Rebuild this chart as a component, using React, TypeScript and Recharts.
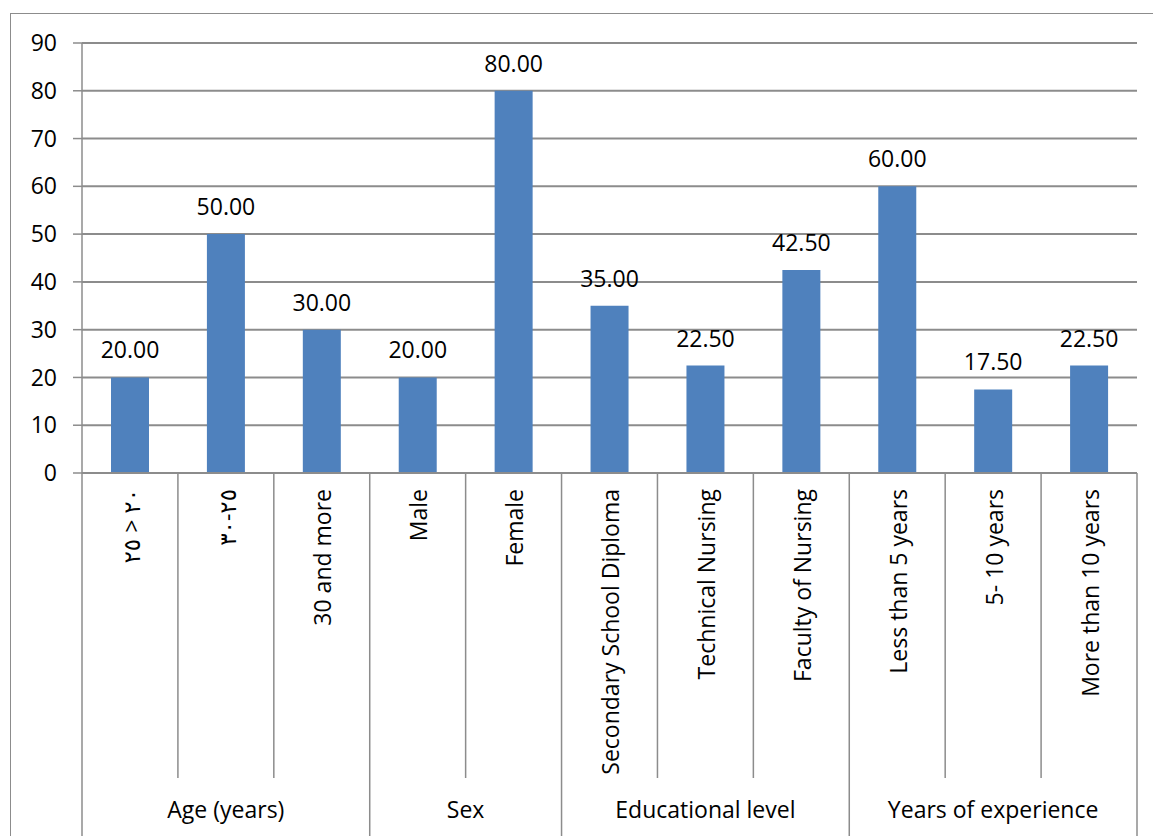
import React from 'react';
import { BarChart, Bar, XAxis, YAxis, CartesianGrid, LabelList } from 'recharts';

const categories = [
  '\u202D٢٥ > ٢٠\u202C',
  '\u202D٣٠-٢٥\u202C',
  '30  and more',
  'Male',
  'Female',
  'Secondary School Diploma',
  'Technical Nursing',
  'Faculty of Nursing',
  'Less than 5 years',
  '5- 10 years',
  'More than 10 years',
];
const values = [20, 50, 30, 20, 80, 35, 22.5, 42.5, 60, 17.5, 22.5];
const groups = ['Age (years)', 'Sex', 'Educational level', 'Years of experience'];
const groupSizes = [3, 2, 3, 3];
const yTicks = [0, 10, 20, 30, 40, 50, 60, 70, 80, 90];

const data = categories.map((name, i) => ({ name, value: values[i] }));

const groupStarts: number[] = [];
{
  let acc = 0;
  groupSizes.forEach((s) => {
    groupStarts.push(acc);
    acc += s;
  });
}

const GRID = '#8c8c8c';
const FONT = '"Open Sans", "DejaVu Sans", sans-serif';
const FS = 23;

function CategoryTick(props: any) {
  const { x, y, payload, index } = props;
  const half = payload && payload.offset ? payload.offset : 1055 / 22;
  const gi = groupStarts.indexOf(index);
  const isGroupStart = gi >= 0;
  const isLast = index === categories.length - 1;
  return (
    <g>
      <line
        x1={x - half}
        x2={x - half}
        y1={y}
        y2={isGroupStart ? y + 363 : y + 305}
        stroke={GRID}
        strokeWidth={1.5}
      />
      {isLast && (
        <line x1={x + half} x2={x + half} y1={y} y2={y + 363} stroke={GRID} strokeWidth={1.5} />
      )}
      <text
        transform={`translate(${x},${y + 16}) rotate(-90)`}
        textAnchor="end"
        dy="0.42em"
        fontSize={FS}
        fill="#000"
        fontFamily={FONT}
      >
        {payload.value}
      </text>
      {isGroupStart && (
        <text
          x={x - half + groupSizes[gi] * half}
          y={y + 345}
          textAnchor="middle"
          fontSize={FS}
          fill="#000"
          fontFamily={FONT}
        >
          {groups[gi]}
        </text>
      )}
    </g>
  );
}

export default function App() {
  return (
    <div style={{ position: 'absolute', left: 0, top: 0, width: 1153, height: 836, background: '#fff', overflow: 'hidden' }}>
      <div
        style={{
          position: 'absolute',
          left: 10,
          top: 13,
          width: 1200,
          height: 900,
          borderLeft: `1.5px solid ${GRID}`,
          borderTop: `1.5px solid ${GRID}`,
        }}
      />
      <div style={{ position: 'absolute', left: 0, top: 0 }}>
        <BarChart
          width={1153}
          height={836}
          data={data}
          margin={{ top: 43, right: 16, left: 0, bottom: 0 }}
          style={{ fontFamily: FONT }}
        >
          <CartesianGrid vertical={false} stroke={GRID} strokeWidth={2} />
          <XAxis
            dataKey="name"
            type="category"
            height={363}
            interval={0}
            tickLine={false}
            tickSize={0}
            tickMargin={0}
            axisLine={{ stroke: GRID, strokeWidth: 2 }}
            tick={<CategoryTick />}
          />
          <YAxis
            type="number"
            domain={[0, 90]}
            ticks={yTicks}
            interval={0}
            width={82}
            tickSize={9}
            tickMargin={16}
            axisLine={{ stroke: GRID, strokeWidth: 1.5 }}
            tickLine={{ stroke: GRID, strokeWidth: 1.5 }}
            tick={{ fontSize: FS, fill: '#000', fontFamily: FONT }}
          />
          <Bar dataKey="value" fill="#4F81BD" barSize={38} isAnimationActive={false}>
            <LabelList
              dataKey="value"
              position="top"
              offset={19}
              fill="#000"
              fontSize={FS}
              fontFamily={FONT}
              formatter={(v: any) => Number(v).toFixed(2)}
            />
          </Bar>
        </BarChart>
      </div>
    </div>
  );
}
